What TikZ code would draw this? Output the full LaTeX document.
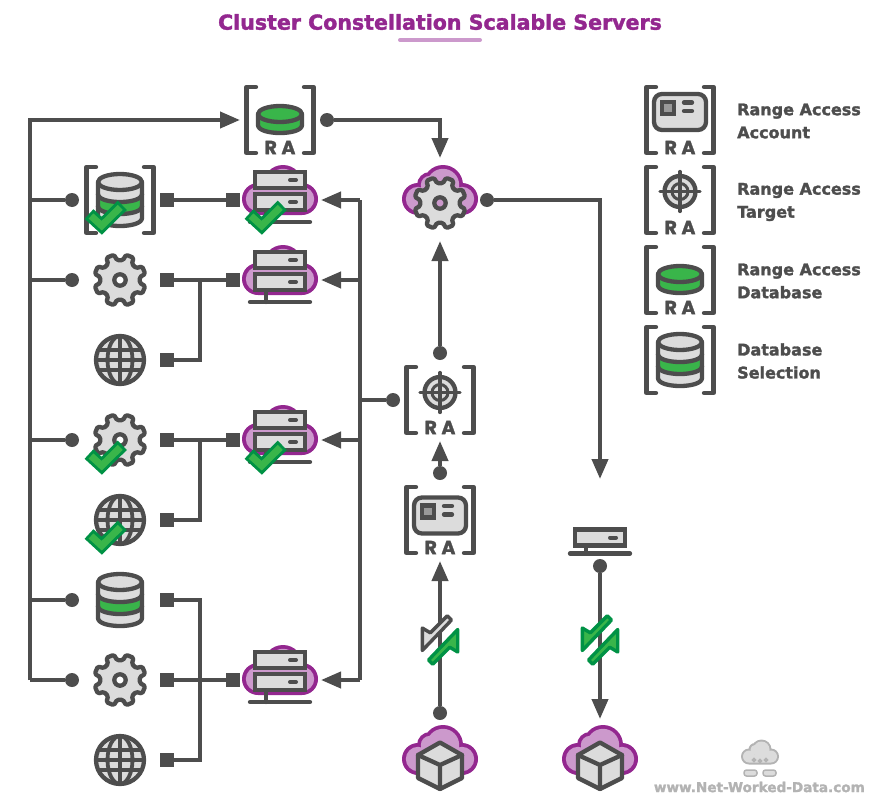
\documentclass[tikz,border=0pt]{standalone}
\usepackage{fontspec}
\setmainfont{DejaVu Sans}[BoldFeatures={FakeBold=1.8}]
\newfontfamily\rafont{Poppins}[BoldFeatures={FakeBold=1.5}]
\usetikzlibrary{arrows.meta,calc}
\definecolor{dk}{HTML}{4D4D4D}
\definecolor{gy}{HTML}{DCDCDC}
\definecolor{mg}{HTML}{999999}
\definecolor{gn}{HTML}{39B54A}
\definecolor{dg}{HTML}{009245}
\definecolor{pu}{HTML}{93278F}
\definecolor{lp}{HTML}{CC99CC}
\definecolor{wm}{HTML}{B3B3B3}
\pgfdeclarelayer{back}
\pgfdeclarelayer{front}
\pgfsetlayers{back,main,front}
\newcommand{\cloudshape}[1]{
  (-22,-1) circle[radius={16-#1}] (22,-1) circle[radius={16-#1}]
  (-10,-15) circle[radius={13-#1}] (3,-15) circle[radius={20-#1}]
  ({-22},{15-#1}) rectangle (22,-5)}
\newcommand{\halfdown}[2]{(-#1,#2) .. controls (-#1,{#2+10.67}) and (#1,{#2+10.67}) .. (#1,#2)}
\tikzset{
  conn/.style={line width=4pt,draw=dk,line join=miter},
  arr/.style={-{Triangle[length=20pt,width=16pt]}},
  ic/.style={line width=4.3pt,draw=dk,line join=round,line cap=round},
  dotnode/.style={circle,fill=dk,minimum size=14pt,inner sep=0pt,outer sep=0pt},
  sqnode/.style={rectangle,fill=dk,minimum size=14pt,inner sep=0pt,outer sep=0pt},
  legendtext/.style={anchor=west,font=\bfseries\fontsize{16}{23}\selectfont,text=dk,inner sep=0pt,align=left},
  pics/brk/.style={code={
    \draw[ic] (-24,-33) -- (-33.5,-33) -- (-33.5,33) -- (-24,33);
    \draw[ic] (24,-33) -- (33.5,-33) -- (33.5,33) -- (24,33);
  }},
  pics/ratext/.style={code={
    \node[inner sep=0pt,text=dk,font=\rafont\bfseries\fontsize{19}{19}\selectfont] (-ra) at (0,27.5) {R\hspace{4.5pt}A};
  }},
  pics/cloud/.style={code={
    \fill[pu] \cloudshape{0};
    \fill[lp] \cloudshape{3.8};
  }},
  pics/dbra/.style={code={
    \path[fill=gn] \halfdown{22}{5} -- (22,-6) -- (-22,-6) -- cycle;
    \draw[ic] (-22,-6) -- (-22,5) .. controls (-22,15.67) and (22,15.67) .. (22,5) -- (22,-6);
    \draw[ic,fill=gn] (0,-6) ellipse[x radius=22,y radius=8];
  }},
  pics/dbsel/.style={code={
    \path[fill=gy] \halfdown{22}{18} -- (22,-18) -- (-22,-18) -- cycle;
    \path[fill=gn] \halfdown{22}{-6} -- (22,6) .. controls (22,16.67) and (-22,16.67) .. (-22,6) -- cycle;
    \draw[ic] \halfdown{22}{-6};
    \draw[ic] \halfdown{22}{6};
    \draw[ic] (-22,-18) -- (-22,18) .. controls (-22,28.67) and (22,28.67) .. (22,18) -- (22,-18);
    \draw[ic,fill=gy] (0,-18) ellipse[x radius=22,y radius=8];
  }},
  pics/gearicon/.style={code={
    \filldraw[ic,fill=gy,rounded corners=1.5pt] (8.5:20) -- (13.5:26) -- (31.5:26) -- (36.5:20)
      \foreach \a in {67.5,112.5,157.5,202.5,247.5,292.5,337.5}{ -- (\a-14:20) -- (\a-9:26) -- (\a+9:26) -- (\a+14:20)} -- cycle;
    \draw[ic,fill=#1] (0,0) circle[radius=5.7];
  }},
  pics/globeicon/.style={code={
    \draw[ic,fill=gy] (0,0) circle[radius=24];
    \draw[line width=3.8pt,draw=dk] (0,0) ellipse[x radius=12.5,y radius=24];
    \draw[line width=3.8pt,draw=dk] (0,-24) -- (0,24) (-24,0) -- (24,0) (-21.8,-10) -- (21.8,-10) (-21.8,10) -- (21.8,10);
  }},
  pics/srvbox/.style={code={
    \draw[ic,fill=gy,line join=miter] (-25,-8) rectangle (25,8);
    \draw[line width=4pt,draw=dk,line cap=round] (10,0) -- (16,0);
  }},
  pics/srvcloud/.style={code={
    \pic at (0,0) {cloud};
    \pic at (0,-20) {srvbox};
    \pic at (0,2) {srvbox};
    \draw[ic] (-14,12) -- (-14,22) (-30,22) -- (30,22);
  }},
  pics/srvthin/.style={code={
    \pic at (0,-2.5) {srvbox};
    \draw[ic] (-14,7) -- (-14,13.5) (-30,13.5) -- (30,13.5);
  }},
  pics/card/.style={code={
    \draw[ic,fill=gy,rounded corners=8pt] (-26,-18) rectangle (26,18);
    \draw[ic,fill=mg,line join=miter] (-18,-10) rectangle (-6,2);
    \draw[ic] (4,-9.5) -- (12,-9.5) (4,-1) -- (12,-1);
  }},
  pics/target/.style={code={
    \draw[ic,fill=gy] (0,0) circle[radius=15.5];
    \draw[line width=3pt,draw=dk] (0,0) circle[radius=8];
    \draw[line width=3.2pt,draw=dk,line cap=round] (-20,0) -- (20,0) (0,-20) -- (0,20);
  }},
  pics/cube/.style={code={
    \draw[ic,fill=gy] (0,-17.5) -- (22,-5) -- (22,18) -- (0,29) -- (-22,18) -- (-22,-5) -- cycle;
    \draw[ic] (-22,-5) -- (0,5) -- (22,-5) (0,5) -- (0,29);
  }},
  pics/checkmark/.style={code={
    \draw[line width=13pt,draw=dg,line join=miter] (-31,14) -- (-18.3,25.7) -- (2.3,5.3);
    \draw[line width=7pt,draw=gn,line join=miter] (-29,16) -- (-18.3,25.7) -- (0.2,7.4);
  }},
  pics/halfarrow/.style 2 args={code={
    \draw[line width=3.4pt,draw=#2,fill=#1,line join=round]
      (7.3,-24.2) -- (11.5,-20) -- (-17.7,10.5) -- (-17.7,-12) -- (-9.7,-7.2) -- cycle;
  }},
  pics/uparrow/.style 2 args={code={
    \draw[line width=3.4pt,draw=#2,fill=#1,line join=round]
      (-7.3,24.2) -- (-11.5,20) -- (17.7,-10.5) -- (17.7,12) -- (9.7,7.2) -- cycle;
  }},
}
\begin{document}
\begin{tikzpicture}[x=1pt,y=-1pt]
\useasboundingbox (0,0) rectangle (880,800);

% terminals
\begin{pgfonlayer}{front}
\node[dotnode] (d1) at (72,200) {};
\node[dotnode] (d2) at (72,280) {};
\node[dotnode] (d3) at (72,440) {};
\node[dotnode] (d4) at (72,600) {};
\node[dotnode] (d5) at (72,680) {};
\node[dotnode] (d6) at (393,400) {};
\node[dotnode] (dra) at (327,120) {};
\node[dotnode] (dcl) at (487,200) {};
\node[dotnode] (dtg) at (440,353) {};
\node[dotnode] (dac) at (440,473) {};
\node[dotnode] (dcu) at (440,713) {};
\node[dotnode] (dsv) at (600,566) {};
\node[sqnode] (s1) at (167,200) {};
\node[sqnode] (s2) at (167,280) {};
\node[sqnode] (s3) at (167,360) {};
\node[sqnode] (s4) at (167,440) {};
\node[sqnode] (s5) at (167,520) {};
\node[sqnode] (s6) at (167,600) {};
\node[sqnode] (s7) at (167,680) {};
\node[sqnode] (s8) at (167,760) {};
\node[sqnode] (r1) at (233,200) {};
\node[sqnode] (r2) at (233,280) {};
\node[sqnode] (r3) at (233,440) {};
\node[sqnode] (r4) at (233,680) {};
\end{pgfonlayer}

\coordinate (tTop) at (30,120);
\coordinate (tBot) at (30,680);
\coordinate (aRA) at (240,120);
\coordinate (bTop) at (360,200);
\coordinate (bBot) at (360,680);
\coordinate (a1) at (321,200);
\coordinate (a2) at (321,280);
\coordinate (a3) at (321,440);
\coordinate (a4) at (321,680);
\coordinate (j1) at (200,280);
\coordinate (j2) at (200,440);
\coordinate (j3) at (200,600);
\coordinate (j4) at (200,760);
\coordinate (ktop) at (440,158);
\coordinate (kup) at (440,241);
\coordinate (kmid) at (440,441);
\coordinate (klow) at (440,561);
\coordinate (vtop) at (600,200);
\coordinate (vend) at (600,479);
\coordinate (vcube) at (600,719);

% connectors
\begin{pgfonlayer}{back}
\draw[conn,arr] (tBot) -- (tTop) -- (aRA);
\draw[conn] (d1) -- (d1 -| tTop);
\draw[conn] (d2) -- (d2 -| tTop);
\draw[conn] (d3) -- (d3 -| tTop);
\draw[conn] (d4) -- (d4 -| tTop);
\draw[conn] (d5) -- (tBot);
\draw[conn] (s1) -- (r1);
\draw[conn] (s2) -- (r2);
\draw[conn] (s3) -| (j1);
\draw[conn] (s4) -- (r3);
\draw[conn] (s5) -| (j2);
\draw[conn] (s6) -- (j3) -- (j4) -- (s8);
\draw[conn] (s7) -- (r4);
\draw[conn] (bTop) -- (bBot);
\draw[conn,arr] (bTop) -- (a1);
\draw[conn,arr] (a2 -| bTop) -- (a2);
\draw[conn,arr] (a3 -| bTop) -- (a3);
\draw[conn,arr] (bBot) -- (a4);
\draw[conn] (d6) -- (d6 -| bTop);
\draw[conn,arr] (dra) -| (ktop);
\draw[conn,arr] (dtg) -- (kup);
\draw[conn,arr] (dac) -- (kmid);
\draw[conn,arr] (dcu) -- (klow);
\draw[conn,arr] (dcl) -- (vtop) -- (vend);
\draw[conn,arr] (dsv) -- (vcube);
\end{pgfonlayer}

% title
\node[inner sep=0pt,text=pu,font=\bfseries\fontsize{20.55}{24}\selectfont] (title) at (440,22) {Cluster Constellation Scalable Servers};
\draw[line width=4pt,draw=lp,line cap=round] (400,40) -- (480,40);

% top RA database
\pic (ira) at (280,120) {brk};
\pic (irb) at (280,120) {dbra};
\pic (irc) at (280,120) {ratext};

% row icons
\pic (b1) at (120,200) {brk};
\pic (b2) at (120,200) {dbsel};
\pic (b3) at (120,200) {checkmark};
\pic (g1) at (120,280) {gearicon=white};
\pic (w1) at (120,360) {globeicon};
\pic (g2) at (120,440) {gearicon=white};
\pic (c2) at (120,440) {checkmark};
\pic (w2) at (120,520) {globeicon};
\pic (c3) at (120,520) {checkmark};
\pic (db) at (120,600) {dbsel};
\pic (g3) at (120,680) {gearicon=white};
\pic (w3) at (120,760) {globeicon};

% servers
\pic (sv1) at (280,200) {srvcloud};
\pic (c4) at (280,200) {checkmark};
\pic (sv2) at (280,280) {srvcloud};
\pic (sv3) at (280,440) {srvcloud};
\pic (c5) at (280,440) {checkmark};
\pic (sv4) at (280,680) {srvcloud};

% centre column
\pic (cl1) at (440,200) {cloud};
\pic (cg1) at (440,203) {gearicon=lp};
\pic (t0) at (440,400) {brk};
\pic (t1) at (440,392.5) {target};
\pic (t2) at (440,400) {ratext};
\pic (a0) at (440,520) {brk};
\pic (a5) at (440,515.5) {card};
\pic (a6) at (440,520) {ratext};
\pic (ha1) at (440,640) {halfarrow={gy}{dk}};
\pic (ha2) at (440,640) {uparrow={gn}{dg}};
\pic (cl2) at (440,760) {cloud};
\pic (cb1) at (440,760) {cube};

% right column
\pic (st) at (600,540) {srvthin};
\pic (ha3) at (600,640) {halfarrow={gn}{dg}};
\pic (ha4) at (600,640) {uparrow={gn}{dg}};
\pic (cl3) at (600,760) {cloud};
\pic (cb2) at (600,760) {cube};

% legend
\pic (l1) at (680,120) {brk};
\pic (l2) at (680,112) {card};
\pic (l3) at (680,120) {ratext};
\node[legendtext] (lt1) at (737,121) {Range Access\\Account};
\pic (l4) at (680,200) {brk};
\pic (l5) at (680,191.5) {target};
\pic (l6) at (680,200) {ratext};
\node[legendtext] (lt2) at (737,202) {Range Access\\Target};
\pic (l7) at (680,280) {brk};
\pic (l8) at (680,280) {dbra};
\pic (l9) at (680,280) {ratext};
\node[legendtext] (lt3) at (737,281) {Range Access\\Database};
\pic (l10) at (680,360) {brk};
\pic (l11) at (680,360) {dbsel};
\node[legendtext] (lt4) at (737,361) {Database\\Selection};

% watermark
\begin{scope}[shift={(760,757)},scale=0.5]
  \fill[wm] \cloudshape{0};
  \fill[gy] \cloudshape{4};
  \draw[wm,line width=1.5pt] (-12,6) circle[radius=3] (0,8) circle[radius=3] (12,6) circle[radius=3];
\end{scope}
\draw[wm,fill=gy,line width=1.5pt,rounded corners=2.5pt] (744,770) rectangle (757,776);
\draw[wm,fill=gy,line width=1.5pt,rounded corners=2.5pt] (763,770) rectangle (776,776);
\node[inner sep=0pt,anchor=east,text=wm,font=\bfseries\fontsize{13.6}{15}\selectfont] (wmt) at (865,787) {www.Net-Worked-Data.com};
\end{tikzpicture}
\end{document}
